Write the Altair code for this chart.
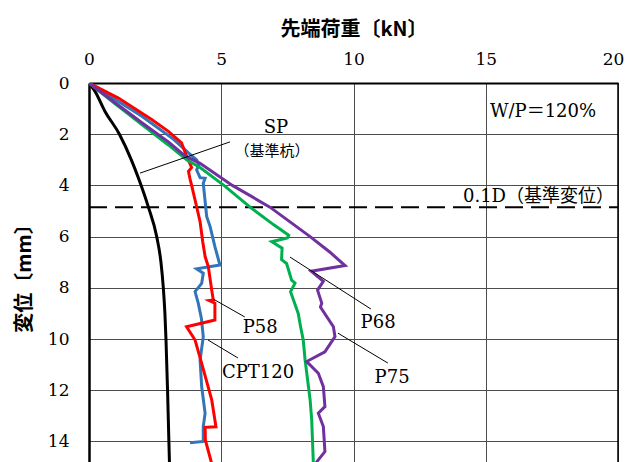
import altair as alt
import pandas as pd

# ---- data (load kN, displacement mm) ----
sp_x = [0, 0.23, 0.6, 1.15, 1.6, 1.9, 2.24, 2.56, 2.72, 2.81, 2.87, 2.91, 2.97, 3.02, 3.06]
sp_y = [0, 0.33, 1.1, 2.0, 3.0, 3.8, 4.83, 6.0, 7.0, 8.0, 9.0, 10.0, 12.0, 14.0, 15.5]

p58_x = [0, 1.11, 2.37, 3.0, 3.5, 3.69, 3.88, 3.76, 3.82, 3.88, 4.01, 4.20, 4.30, 4.39, 4.51, 4.64, 4.70, 4.55, 4.76, 4.76, 3.69, 4.01, 4.26, 4.64, 4.80, 4.39, 4.40, 4.57, 4.8]
p58_y = [0, 0.59, 1.43, 1.89, 2.34, 2.86, 3.30, 3.45, 3.75, 4.0, 4.57, 5.42, 6.2, 6.78, 7.17, 8.09, 8.48, 8.50, 8.6, 9.26, 9.52, 10.04, 10.95, 12.38, 13.43, 13.45, 13.95, 14.6, 15.5]

cpt_x = [0, 2.0, 3.2, 3.76, 4.07, 4.15, 4.07, 4.20, 4.39, 4.32, 4.45, 4.58, 4.76, 4.95, 4.07, 4.32, 4.26, 4.01, 4.13, 4.25, 4.32, 4.20, 4.26, 4.39, 4.32, 4.32, 3.82]
cpt_y = [0, 1.3, 2.2, 2.73, 3.0, 3.2, 3.4, 3.70, 3.72, 3.92, 5.22, 5.61, 6.39, 7.11, 7.26, 7.43, 7.83, 8.15, 8.6, 9.2, 9.91, 10.82, 11.86, 12.9, 13.42, 14.0, 14.05]

p68_x = [0, 1.0, 2.0, 3.0, 3.69, 4.2, 5.1, 6.09, 7.0, 7.55, 7.5, 6.91, 7.30, 7.28, 7.47, 7.66, 7.79, 7.62, 7.91, 8.0, 8.10, 8.17, 8.36, 8.42, 8.48, 8.5]
p68_y = [0, 0.82, 1.62, 2.42, 3.0, 3.3, 4.0, 4.85, 5.55, 5.95, 6.05, 6.2, 6.45, 6.9, 7.05, 7.7, 7.82, 8.15, 9.0, 9.52, 10.04, 10.82, 12.38, 13.16, 14.8, 15.5]

p75_x = [0, 1.0, 2.0, 3.0, 3.63, 4.2, 5.42, 6.84, 8.36, 9.1, 9.68, 8.40, 8.86, 8.64, 8.80, 8.75, 9.24, 9.30, 8.92, 8.23, 8.67, 8.86, 8.92, 8.67, 8.86, 8.92, 8.61, 8.5]
p75_y = [0, 0.78, 1.55, 2.3, 2.85, 3.14, 4.0, 4.85, 6.0, 6.6, 7.13, 7.35, 7.75, 8.09, 8.6, 8.75, 9.52, 9.91, 10.5, 10.88, 11.34, 11.86, 12.64, 12.9, 13.42, 14.4, 14.8, 15.5]

series_names = ["SP", "CPT120", "P58", "P68", "P75"]
series_colors = ["#000000", "#3275BA", "#FF0000", "#00B050", "#7030A0"]

ref_disp = 4.85  # 0.1D

x_ticks = [0, 5, 10, 15, 20]
y_ticks = [0, 2, 4, 6, 8, 10, 12, 14]

# annotation texts and anchor positions (data units)
lbl_text = ["SP", "P58", "CPT120", "P68", "P75"]
lbl_x = [7.07, 6.47, 6.39, 10.93, 11.46]
lbl_y = [1.76, 9.57, 11.33, 9.38, 11.52]

lead_x = [5.33, 4.70, 4.50, 7.60, 9.41]
lead_y = [2.30, 8.44, 10.04, 6.80, 9.77]
lead_x2 = [1.93, 5.89, 5.63, 10.66, 11.30]
lead_y2 = [3.52, 9.14, 10.74, 8.83, 10.94]

# ---- build tables ----
rows = []
for name, xs_, ys_ in [("CPT120", cpt_x, cpt_y), ("P58", p58_x, p58_y),
                       ("P68", p68_x, p68_y), ("P75", p75_x, p75_y)]:
    for i, (a, b) in enumerate(zip(xs_, ys_)):
        rows.append({"series": name, "x": a, "y": b, "i": i})
df = pd.DataFrame(rows)
df_sp = pd.DataFrame({"series": "SP", "x": sp_x, "y": sp_y})

xs = alt.Scale(domain=[0, 20], nice=False, zero=False)
ys = alt.Scale(domain=[0, 15], nice=False, zero=False, reverse=True)
cs = alt.Scale(domain=series_names, range=series_colors)

serif = "DejaVu Serif, Noto Sans CJK JP"
cjk = "Noto Sans CJK JP"

x_axis = alt.Axis(orient="top", values=x_ticks, grid=True, gridColor="#4d4d4d", gridWidth=1,
                  ticks=False, domainColor="black", domainWidth=2, labelFont=serif,
                  labelFontSize=17, labelColor="black", labelPadding=15, labelFlush=False,
                  labelOffset={"expr": "datum.value == 20 ? -5 : 0"},
                  title="先端荷重〔kN〕", titleFont=cjk, titleFontSize=20, titleFontWeight="bold",
                  titleColor="black", titlePadding=11)
y_axis = alt.Axis(orient="left", values=y_ticks, grid=True, gridColor="#4d4d4d", gridWidth=1,
                  ticks=False, domainColor="black", domainWidth=2.5, labelFont=serif,
                  labelFontSize=17, labelColor="black", labelPadding=20, labelFlush=False,
                  title="変位〔mm〕", titleFont=cjk, titleFontSize=20, titleFontWeight="bold",
                  titleColor="black", titleAngle=270, titleX=-65, titleY=190,
                  titleBaseline="middle", titleAlign="center")

sp_line = alt.Chart(df_sp).mark_line(strokeWidth=3, clip=True, interpolate="monotone").encode(
    x=alt.X("x:Q", scale=xs, axis=x_axis),
    y=alt.Y("y:Q", scale=ys, axis=y_axis),
    color=alt.Color("series:N", scale=cs, legend=None),
)

lines = alt.Chart(df).mark_line(strokeWidth=3, clip=True).encode(
    x=alt.X("x:Q", scale=xs),
    y=alt.Y("y:Q", scale=ys),
    color=alt.Color("series:N", scale=cs, legend=None),
    order="i:Q",
    detail="series:N",
)

dash = alt.Chart(pd.DataFrame({"y": [ref_disp]})).mark_rule(
    color="black", strokeWidth=2, strokeDash=[18, 8]).encode(
    y=alt.Y("y:Q", scale=ys), x=alt.value(0), x2=alt.value(529))

right_border = alt.Chart(pd.DataFrame({"x": [20]})).mark_rule(color="black", strokeWidth=1.5).encode(
    x=alt.X("x:Q", scale=xs), y=alt.value(0), y2=alt.value(400))

leaders = alt.Chart(pd.DataFrame({"x": lead_x, "y": lead_y, "x2": lead_x2, "y2": lead_y2})).mark_rule(
    color="black", strokeWidth=1).encode(
    x=alt.X("x:Q", scale=xs), y=alt.Y("y:Q", scale=ys), x2="x2:Q", y2="y2:Q")

labels = alt.Chart(pd.DataFrame({"t": lbl_text, "x": lbl_x, "y": lbl_y})).mark_text(
    font=serif, fontSize=18, color="black", align="center", baseline="middle").encode(
    x=alt.X("x:Q", scale=xs), y=alt.Y("y:Q", scale=ys), text="t:N")

sub = alt.Chart(pd.DataFrame({"t": ["（基準杭）"], "x": [6.92], "y": [2.66]})).mark_text(
    font=cjk, fontSize=15, color="black", align="center", baseline="middle").encode(
    x=alt.X("x:Q", scale=xs), y=alt.Y("y:Q", scale=ys), text="t:N")

wp = alt.Chart(pd.DataFrame({"t": ["W/P＝120%"], "x": [15.16], "y": [1.13]})).mark_text(
    font=serif, fontSize=18, color="black", align="left", baseline="middle").encode(
    x=alt.X("x:Q", scale=xs), y=alt.Y("y:Q", scale=ys), text="t:N")

dlabel = alt.Chart(pd.DataFrame({"t": ["0.1D（基準変位）"], "x": [19.85], "y": [4.45]})).mark_text(
    font=serif, fontSize=18, color="black", align="right", baseline="middle").encode(
    x=alt.X("x:Q", scale=xs), y=alt.Y("y:Q", scale=ys), text="t:N")

chart = alt.layer(sp_line, dash, right_border, lines, leaders, labels, sub, wp, dlabel).properties(
    width=529, height=384,
    autosize=alt.AutoSizeParams(type="none"),
    padding={"left": 81, "top": 75, "right": 6, "bottom": 0},
).configure_view(stroke=None)

chart.save("out.html", embed_options={"renderer": "svg", "actions": False})
